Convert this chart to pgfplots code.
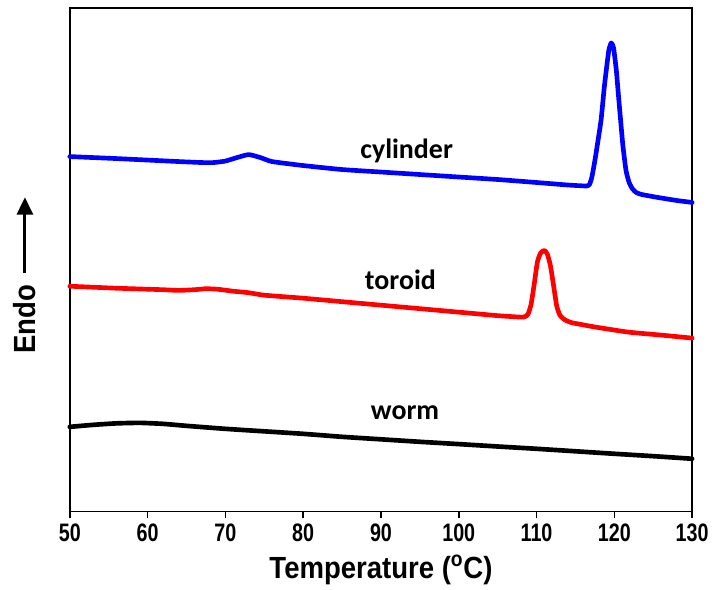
\documentclass[border=0pt]{standalone}
\usepackage{fontspec}
\setmainfont{Liberation Sans}
\newfontfamily\tickfont{Liberation Sans}[FakeStretch=0.78]
\newfontfamily\labfont{Liberation Sans}[FakeStretch=0.9]
\newfontfamily\curvefont{Carlito}
\usepackage{pgfplots}
\pgfplotsset{compat=1.18}
\usetikzlibrary{arrows.meta}

% DSC traces, y in arbitrary units (endo up)
\pgfplotstableread{
T y
50 356
53 355
56 354
60 352.5
64 351
67 350
68.5 350
70 351.5
71.5 355
73 358
74.5 355
76 351
80 347
85 343
90 340.5
95 338
100 335.5
105 333
110 330
114 327.5
116.4 326.5
116.8 328
117.1 335
117.5 352
117.9 372
118.3 393
118.7 425
119.0 445
119.3 463
119.6 470
119.9 465
120.25 443
120.5 420
120.8 393
121.1 367
121.5 342
121.9 330
122.3 324
122.8 320
123.5 318
125.6 315
128 312
130 310
}\cylinder
\pgfplotstableread{
T y
50 226
53 225
56 224
60 223
62 222.5
64 221.8
66 222.5
67.5 223.5
69 223
71 221
73 219.5
75 217
80 214
85 210.5
90 207
95 203.5
100 200
105 196.5
108.3 195
108.9 198
109.3 208
109.7 228
110.1 250
110.5 259
111.0 262
111.4 258
111.8 246
112.2 226
112.6 206
113.0 197
113.6 192.5
114.5 189.5
117.6 185
121.8 180
126 177
130 174
}\toroid
\pgfplotstableread{
T y
50 85
53 87
56 88.5
59 89
62 88
65 86
70 83
75 80.5
80 78
85 75
90 72.5
95 70
100 67.7
105 65.3
110 63
115 60.5
120 58
125 55.6
130 53
}\worm

\begin{document}
\begin{tikzpicture}
\begin{axis}[
  width=468pt, height=378.75pt, scale only axis,
  xmin=50, xmax=130, ymin=0, ymax=505,
  xtick={50,60,...,130}, ytick=\empty,
  xtick pos=left, tick align=outside,
  major tick length=5pt,
  tick style={line width=1.2pt, black},
  axis line style={line width=1.2pt},
  /pgf/number format/assume math mode=true,
  xticklabel style={font=\tickfont\bfseries\fontsize{19}{19}\selectfont, yshift=-1pt},
  xlabel={Temperature (\textsuperscript{o}C)},
  xlabel style={font=\labfont\bfseries\fontsize{23}{23}\selectfont, yshift=-3pt},
  ylabel={Endo\hspace{8pt}\tikz[baseline]{\draw[line width=2.2pt,-{Triangle[length=13pt,width=12pt]}] (0,0.36em)--(57pt,0.36em);}},
  ylabel style={font=\labfont\bfseries\fontsize{23}{23}\selectfont,
    at={(axis description cs:-0.072,0.47)}, anchor=center},
  every axis plot/.append style={line width=3.5pt, line join=round, line cap=round, smooth, tension=0.3},
  clip=false,
]
\addplot[blue] table[x=T,y=y] {\cylinder};
\addplot[red] table[x=T,y=y] {\toroid};
\addplot[black] table[x=T,y=y] {\worm};
\node[font=\curvefont\bfseries\fontsize{21}{21}\selectfont, anchor=base] at (axis cs:93.3,354) {cylinder};
\node[font=\curvefont\bfseries\fontsize{21}{21}\selectfont, anchor=base] at (axis cs:92.5,223) {toroid};
\node[font=\curvefont\bfseries\fontsize{21}{21}\selectfont, anchor=base] at (axis cs:93.1,92) {worm};
\path (rel axis cs:0,1) ++(-52.5pt,6pt);
\end{axis}
\end{tikzpicture}
\end{document}
